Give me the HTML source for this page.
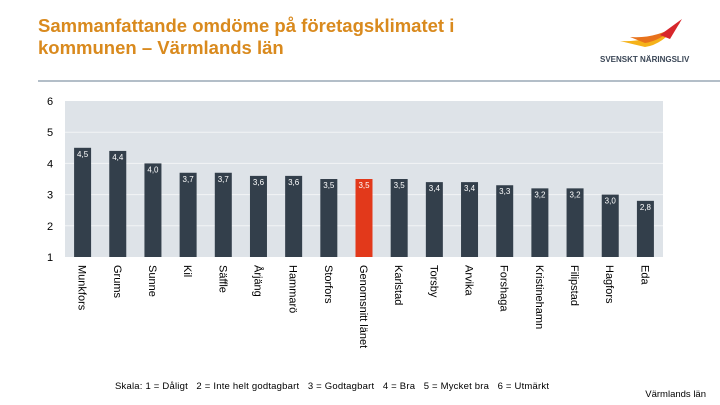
<!DOCTYPE html>
<html><head><meta charset="utf-8">
<style>
body{margin:0;background:#fff;}
#wrap{position:relative;width:720px;height:405px;overflow:hidden;font-family:"Liberation Sans",Arial,sans-serif;}
#title{position:absolute;left:38px;top:15px;font-size:18.5px;font-weight:bold;color:#d98a1e;line-height:22px;}
</style></head>
<body>
<div id="wrap">
<div id="title">Sammanfattande omdöme på företagsklimatet i<br>kommunen – Värmlands län</div>
<svg id="logo" style="position:absolute;left:600px;top:15px" width="120" height="60">
<path d="M20 26 Q50 28 80 8 Q62 30 45 32 Z" fill="#f5b21a"/>
<path d="M30 22 Q55 24 78 10 Q60 26 45 28 Z" fill="#e8721c"/>
<path d="M60 20 L82 4 L70 24 Z" fill="#d7262b"/>
<text x="0" y="47" font-size="8" font-weight="bold" fill="#3a4656" font-family="Liberation Sans">SVENSKT NÄRINGSLIV</text>
</svg>
<svg id="chart" width="720" height="405" style="position:absolute;left:0;top:0">
<rect x="38" y="80" width="682" height="2" fill="#b3bec8"/>
<g id="plot"></g>
<text x="115" y="389" font-size="9.5" fill="#000" textLength="434" lengthAdjust="spacing" style="white-space:pre">Skala: 1 = Dåligt   2 = Inte helt godtagbart   3 = Godtagbart   4 = Bra   5 = Mycket bra   6 = Utmärkt</text>
<text x="706" y="397" font-size="9.5" text-anchor="end" fill="#000">Värmlands län</text>
</svg>
</div>
<script>
const categories=["Munkfors","Grums","Sunne","Kil","Säffle","Årjäng","Hammarö","Storfors","Genomsnitt länet","Karlstad","Torsby","Arvika","Forshaga","Kristinehamn","Filipstad","Hagfors","Eda"];
const values=[4.5,4.4,4.0,3.7,3.7,3.6,3.6,3.5,3.5,3.5,3.4,3.4,3.3,3.2,3.2,3.0,2.8];
const valueLabels=["4,5","4,4","4,0","3,7","3,7","3,6","3,6","3,5","3,5","3,5","3,4","3,4","3,3","3,2","3,2","3,0","2,8"];
const highlight="Genomsnitt länet";
const yTicks=[1,2,3,4,5,6];

const NS="http://www.w3.org/2000/svg";
const g=document.getElementById('plot');
const L=65,R=663,T=101,B=257,yMin=1,yMax=6;
const y=v=>B-(v-yMin)/(yMax-yMin)*(B-T);
const step=(R-L)/categories.length;
const x=i=>L+step*(i+0.5);
function mk(t,a){const e=document.createElementNS(NS,t);for(const k in a)e.setAttribute(k,a[k]);g.appendChild(e);return e;}
const bg=mk('rect',{x:L,y:T,width:R-L,height:B-T,fill:'#dee3e8'});


yTicks.forEach(t=>{
  if(t>yMin&&t<yMax){const ln=mk('line',{x1:L,x2:R,y1:y(t),y2:y(t),stroke:'#f2f4f6','stroke-width':1});
  
  }
  const tx=mk('text',{x:50,y:y(t)+4,'font-size':11,'text-anchor':'middle',fill:'#000'});
  tx.textContent=t;
  
  
});
const bw=17;
categories.forEach((c,i)=>{
  const cx=x(i),top=y(values[i]);
  const r=mk('rect',{x:cx-bw/2,y:top,width:bw,height:B-top,fill:c===highlight?'#e2391b':'#333f4b'});
  
  
  const vl=mk('text',{x:cx,y:top+9,'font-size':8,'text-anchor':'middle',fill:'#fff'});
  vl.textContent=valueLabels[i];
  
  
  const cl=mk('text',{x:0,y:0,'font-size':11,fill:'#000',transform:`translate(${cx-4},265) rotate(90)`});
  cl.textContent=c;
  
  
});
</script>
</body></html>
